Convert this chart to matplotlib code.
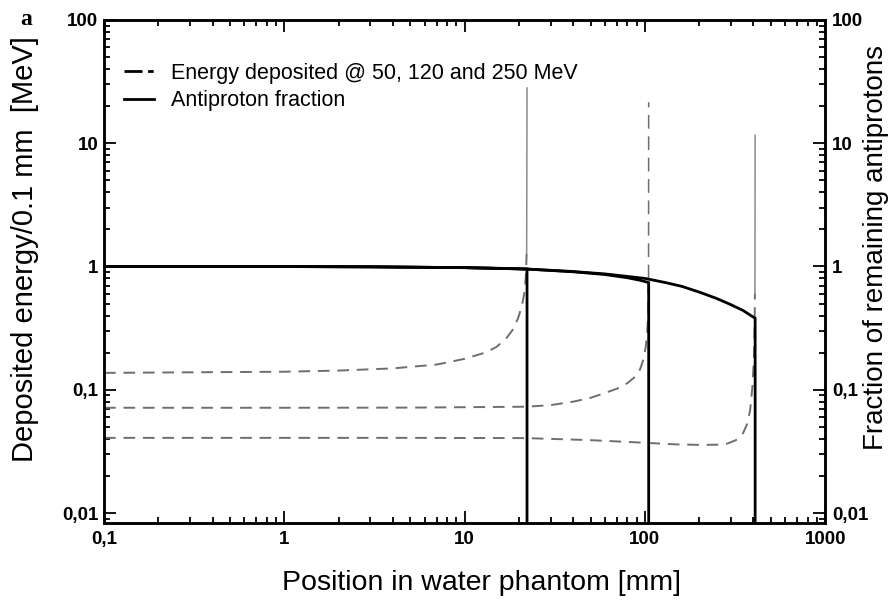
import numpy as np
import matplotlib
matplotlib.use('Agg')
import matplotlib.pyplot as plt
from matplotlib.ticker import FixedLocator, FixedFormatter, LogLocator, NullFormatter

# --- datos ---
# Energia depositada (MeV / 0.1 mm) para 50, 120 y 250 MeV
e50_x = [0.1, 1, 2, 4, 7, 10, 13, 15, 17, 18.6, 19.8, 20.8, 21.5, 21.9, 22.1, 22.2]
e50_y = [0.137, 0.14, 0.143, 0.149, 0.16, 0.178, 0.2, 0.222, 0.26, 0.31, 0.38, 0.48, 0.62, 0.85, 1.3, 28]

e120_x = [0.1, 1, 5, 22, 30, 40, 50, 60, 70, 80, 88, 94, 98, 101, 103, 104.3, 104.8, 105]
e120_y = [0.0714, 0.0714, 0.0716, 0.0728, 0.075, 0.08, 0.086, 0.094, 0.102, 0.113, 0.127, 0.146,
          0.175, 0.22, 0.29, 0.4, 0.8, 21.5]

e250_x = [0.1, 5, 22, 50, 105, 150, 203, 250, 286, 320, 351, 370, 384, 395, 402, 406, 408, 409]
e250_y = [0.0407, 0.0407, 0.0405, 0.039, 0.037, 0.036, 0.0357, 0.0358, 0.0365, 0.039, 0.0446,
          0.053, 0.069, 0.106, 0.17, 0.3, 0.6, 11.6]

# Fraccion de antiprotones restantes (el ultimo punto es la caida a cero)
f50_x = [0.1, 1, 3, 10, 18, 22.2, 22.2]
f50_y = [1.0, 0.998, 0.993, 0.978, 0.962, 0.952, 0.001]

f120_x = [0.1, 1, 3, 10, 22, 40, 60, 80, 95, 105, 105]
f120_y = [1.0, 0.998, 0.993, 0.978, 0.953, 0.905, 0.86, 0.81, 0.77, 0.74, 0.001]

f250_x = [0.1, 1, 3, 10, 22, 40, 60, 80, 100, 130, 160, 200, 250, 300, 350, 409, 409]
f250_y = [1.0, 0.998, 0.993, 0.978, 0.953, 0.91, 0.87, 0.83, 0.8, 0.74, 0.69, 0.62, 0.55,
          0.49, 0.44, 0.38, 0.001]

x_ticks = [0.1, 1, 10, 100, 1000]
x_tick_labels = ['0,1', '1', '10', '100', '1000']
y_ticks = [0.01, 0.1, 1, 10, 100]
y_tick_labels = ['0,01', '0,1', '1', '10', '100']

plt.rcParams['font.family'] = ['Liberation Sans', 'DejaVu Sans']

fig = plt.figure(figsize=(8.93, 6.03), dpi=100)
ax = fig.add_axes([0.1165, 0.1327, 0.8075, 0.8343])
ax.set_xscale('log')
ax.set_yscale('log')
ax.set_xlim(0.1, 1000)
ax.set_ylim(0.0083, 100)

# --- curvas de energia (discontinuas) y picos de Bragg ---
gris = '#6e6e6e'
energias = [(e50_x, e50_y, '-'), (e120_x, e120_y, '--'), (e250_x, e250_y, '-')]
for ex, ey, estilo_pico in energias:
    ax.plot(ex[:-1], ey[:-1], color=gris, lw=1.4, linestyle=(0, (6, 4)))
    if estilo_pico == '-':
        ax.plot(ex[-2:], ey[-2:], color='#8a8a8a', lw=1.1, linestyle='-')
    else:
        ax.plot(ex[-2:], ey[-2:], color=gris, lw=1.1, linestyle=(0, (9, 5)))

# --- fraccion de antiprotones (continua) ---
for fx, fy in [(f50_x, f50_y), (f120_x, f120_y), (f250_x, f250_y)]:
    ax.plot(fx, fy, color='black', lw=2.0, solid_joinstyle='miter')

# --- ejes y marcas ---
for s in ax.spines.values():
    s.set_linewidth(1.8)

ax.xaxis.set_major_locator(FixedLocator(x_ticks))
ax.xaxis.set_major_formatter(FixedFormatter(x_tick_labels))
ax.xaxis.set_minor_locator(LogLocator(base=10, subs=np.arange(2, 10)))
ax.xaxis.set_minor_formatter(NullFormatter())
ax.yaxis.set_major_locator(FixedLocator(y_ticks))
ax.yaxis.set_major_formatter(FixedFormatter(y_tick_labels))
ax.yaxis.set_minor_locator(LogLocator(base=10, subs=np.arange(2, 10)))
ax.yaxis.set_minor_formatter(NullFormatter())

ax.tick_params(which='both', direction='in', top=True, right=False, width=1.3)
ax.tick_params(which='major', length=8.5, labelsize=13.5)
ax.tick_params(which='minor', length=4)
ax.tick_params(axis='x', which='major', pad=6)
ax.tick_params(axis='y', which='major', pad=4)
for lab in ax.get_xticklabels() + ax.get_yticklabels():
    lab.set_fontweight('bold')

ax2 = ax.twinx()
ax2.set_yscale('log')
ax2.set_ylim(ax.get_ylim())
ax2.yaxis.set_major_locator(FixedLocator(y_ticks))
ax2.yaxis.set_major_formatter(FixedFormatter(y_tick_labels))
ax2.yaxis.set_minor_locator(LogLocator(base=10, subs=np.arange(2, 10)))
ax2.yaxis.set_minor_formatter(NullFormatter())
ax2.tick_params(which='both', direction='in', width=1.3)
ax2.tick_params(which='major', length=8.5, labelsize=13.5, pad=5)
ax2.tick_params(which='minor', length=4)
for lab in ax2.get_yticklabels():
    lab.set_fontweight('bold')
for s in ax2.spines.values():
    s.set_linewidth(1.8)

ax.set_xlabel('Position in water phantom [mm]', fontsize=20.5)
ax.xaxis.set_label_coords(0.523, -0.093)
ax.set_ylabel('Deposited energy/0.1 mm  [MeV]', fontsize=21)
ax.yaxis.set_label_coords(-0.09, 0.545)
ax2.set_ylabel('Fraction of remaining antiprotons', fontsize=20)
ax2.yaxis.set_label_coords(1.053, 0.548)

# --- leyenda ---
h1, = ax.plot([], [], color='black', lw=2, linestyle=(0, (6.5, 2, 2, 2)))
h2, = ax.plot([], [], color='black', lw=2)
ax.legend([h1, h2], ['Energy deposited @ 50, 120 and 250 MeV', 'Antiproton fraction'],
          loc='upper left', bbox_to_anchor=(0.027, 0.915), frameon=False,
          fontsize=15.5, handlelength=1.4, handletextpad=0.8, labelspacing=0.3,
          borderaxespad=0, borderpad=0)

fig.text(0.029, 0.968, 'a', fontsize=17, fontweight='bold', family='Liberation Serif',
         ha='center', va='center')

fig.savefig('out.png', dpi=100)
